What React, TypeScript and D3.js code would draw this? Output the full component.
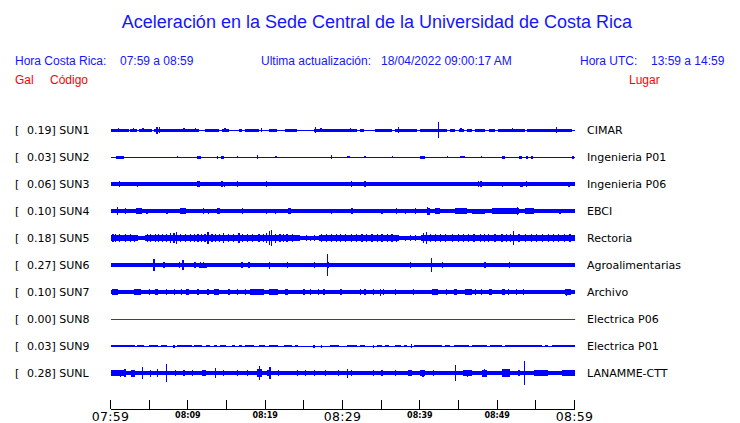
import React from "react";
import * as d3 from "d3";

// ---------- data ----------
const STATIONS = ["SUN1", "SUN2", "SUN3", "SUN4", "SUN5", "SUN6", "SUN7", "SUN8", "SUN9", "SUNL"];
const PEAKS = [0.19, 0.03, 0.06, 0.1, 0.18, 0.27, 0.1, 0.0, 0.03, 0.28];
const PLACES = ["CIMAR", "Ingenieria P01", "Ingenieria P06", "EBCI", "Rectoria", "Agroalimentarias", "Archivo", "Electrica P06", "Electrica P01", "LANAMME-CTT"];
const TICK_MINUTES = [0, 5, 10, 15, 20, 25, 30, 35, 40, 45, 50, 55, 60];
const TICK_LABELS = ["07:59", "08:09", "08:19", "08:29", "08:39", "08:49", "08:59"];
const MAJOR_LABELS = ["07:59", "08:29", "08:59"];

type Seg = [number, number, number];
type Spk = [number, number];

// quiet-level half amplitude per station
const BASES = [0.5, 0.5, 1.7, 1.9, 2.0, 2.0, 2.0, 0.5, 0.5, 2.0];

const SUN1_SEG: Seg[] = [[0, 2.37, 1.5], [2.58, 3.45, 1.5], [3.66, 5.38, 1.5], [5.6, 11.41, 1.5], [12.27, 14.0, 1.5], [14.43, 15.29, 1.5], [16.58, 17.01, 1.5], [17.44, 19.16, 1.5], [20.46, 21.53, 1.5], [22.61, 24.12, 1.5], [26.27, 31.87, 1.5], [32.3, 32.73, 1.5], [34.24, 36.39, 1.5], [36.82, 39.62, 1.5], [40.05, 43.5, 1.5], [43.93, 44.57, 1.5], [45.0, 45.65, 1.5], [46.08, 46.73, 1.5], [47.16, 48.45, 1.5], [48.88, 49.74, 1.5], [50.17, 53.62, 1.5], [53.83, 59.65, 1.5]];
const SUN1_SPK: Spk[] = [[1.0, 2.2], [3.0, 2.3], [4.2, 2], [6.0, 3.5], [6.3, 2.8], [9.5, 2], [11.0, 2.2], [14.8, 2], [19.5, 2], [26.5, 3], [27.2, 2.2], [31.0, 2.2], [37.2, 2.8], [42.4, 8.3], [45.3, 2], [52.0, 2], [57.7, 2.7]];

const SUN2_SEG: Seg[] = [[0.65, 1.7, 1.5], [11.2, 11.7, 1.5], [14.3, 14.7, 1.5], [40.0, 40.7, 1.5], [45.2, 45.8, 1.2], [50.6, 51.0, 1.5], [52.8, 53.2, 1.5], [53.7, 54.0, 1.5]];
const SUN2_SPK: Spk[] = [[8.6, 1.3], [13.8, 1.5], [16.4, 1.2], [19.0, 1.7], [21.4, 1.2], [28.6, 1.7], [30.7, 1.3], [30.9, 1.3], [32.9, 1.3], [36.5, 1.3], [43.6, 1.2], [48.0, 1.3], [54.5, 1.5], [59.8, 1.5]];

const SUN3_SEG: Seg[] = [[11.2, 11.6, 2.8], [40.5, 40.7, 2.3], [53.0, 53.3, 2.5], [59.2, 59.4, 2.5]];
const SUN3_SPK: Spk[] = [[1.16, 2.8], [3.5, 2.5], [14.4, 2.7], [14.7, 2.5], [16.4, 2.7], [20.2, 2.7], [29.0, 2.3], [31.2, 3.3], [32.9, 2.7], [47.6, 2.7], [47.9, 2.7], [50.7, 2.5], [53.8, 2.7], [56.4, 2.2], [57.5, 2.2], [58.4, 2.2]];

const SUN4_SEG: Seg[] = [[3.3, 4.1, 2.6], [9.0, 9.7, 2.8], [12.0, 12.15, 3.3], [13.8, 14.1, 3.2], [23.0, 23.3, 2.7], [31.1, 31.4, 2.6], [40.9, 41.3, 3.5], [42.0, 42.6, 2.6], [44.6, 46.1, 2.7], [46.7, 48.4, 2.5], [49.3, 52.8, 2.7], [53.6, 54.7, 2.6]];
const SUN4_SPK: Spk[] = [[0.86, 4.3], [1.94, 2.6], [4.7, 2.5], [7.3, 2.5], [12.7, 2.5], [17.1, 2.7], [18.3, 2.2], [20.2, 2.5], [21.3, 2.5], [25.0, 2.3], [26.1, 2.3], [27.4, 2.3], [28.6, 2.5], [35.1, 2.5], [37.0, 3], [38.1, 2.5], [39.4, 3.3], [41.0, 4], [45.5, 3.2], [50.8, 3.3], [52.6, 4], [56.0, 2.3], [57.1, 2.3], [58.1, 2.5]];

const SUN5_SEG: Seg[] = [[0, 3.5, 3.1], [4.5, 24.5, 3.1], [27, 37.3, 3.1], [40.2, 60, 3.1]];
const SUN5_SPK: Spk[] = [
  [0.3, 3.7], [0.65, 4], [1.2, 3.6], [1.9, 4], [2.6, 3.7], [3.1, 3.5], [4.8, 3.6], [5.2, 4], [5.8, 4.3], [6.2, 3.7], [6.7, 4], [7.2, 3.8],
  [7.75, 5.3], [8.2, 5], [8.5, 6.3], [9.0, 4.2], [9.7, 4], [10.3, 3.6], [10.8, 4], [11.3, 3.7], [11.8, 3.7], [12.2, 4], [12.6, 6], [13.1, 3.8],
  [13.6, 4.3], [14.1, 3.9], [14.6, 4.7], [15.2, 3.6], [15.9, 4], [16.6, 4.7], [17.1, 3.8], [17.7, 3.6], [18.3, 3.7], [19.2, 4], [19.8, 4.2],
  [20.2, 4.6], [20.5, 7], [20.8, 8], [21.3, 4.5], [21.9, 3.8], [22.4, 3.6], [22.8, 4], [23.5, 3.7], [24.3, 3.3], [25.3, 2.6], [25.8, 2.5],
  [26.4, 2.8], [27.3, 4], [27.9, 3.7], [28.6, 4], [29.2, 3.6], [29.7, 3.7], [30.4, 3.8], [31.2, 4], [31.8, 3.6], [32.5, 4.3], [33.1, 3.6],
  [33.8, 3.7], [34.5, 3.8], [35.1, 4], [35.8, 3.6], [36.4, 3.7], [37.0, 3.5], [38.1, 2.5], [38.8, 2.6], [39.4, 2.7], [40.5, 4.7], [40.8, 6],
  [41.4, 3.8], [42.0, 4], [42.7, 3.6], [43.3, 4], [44.2, 3.6], [45.0, 3.7], [45.6, 3.8], [46.3, 4], [47.0, 3.6], [47.8, 4.3], [48.3, 3.7],
  [48.9, 4], [49.7, 3.6], [50.6, 3.7], [51.2, 3.8], [51.7, 4], [52.1, 7.3], [52.8, 3.8], [53.6, 4], [54.4, 3.6], [55.1, 3.7], [55.9, 3.8],
  [56.6, 4], [57.3, 3.6], [57.9, 4.3], [58.7, 3.7], [59.4, 4]
];

const SUN6_SEG: Seg[] = [[10.8, 11.0, 3], [11.4, 12.5, 2.5], [48.3, 48.6, 3.3]];
const SUN6_SPK: Spk[] = [[5.6, 6.3], [6.9, 2.7], [8.9, 2.7], [9.35, 5], [11.6, 2.8], [12.0, 2.6], [17.0, 2.7], [17.9, 2.7], [20.5, 3.5], [22.9, 2.6], [26.4, 3], [28.0, 10.8], [28.2, 2.6], [30.1, 2.4], [32.0, 2.4], [34.8, 2.4], [36.5, 2.4], [38.8, 2.7], [41.5, 7.2], [42.9, 2.7], [45.1, 2.4], [50.5, 2.4], [51.6, 2.6], [56.7, 2.4], [59.4, 2.4]];

const SUN7_SEG: Seg[] = [[0.2, 1.0, 2.7], [3.0, 3.9, 2.7], [9.7, 10.1, 2.6], [11.2, 11.4, 2.6], [13.4, 14.0, 2.7], [18.1, 19.8, 2.6], [20.5, 21.7, 2.6], [22.5, 22.9, 3], [41.6, 42.4, 2.6], [44.4, 44.8, 3], [45.8, 46.7, 2.7], [48.9, 49.3, 2.6], [50.6, 51.0, 3], [58.8, 59.6, 2.8]];
const SUN7_SPK: Spk[] = [[5.0, 2.6], [5.8, 2.6], [6.0, 2.6], [7.2, 2.7], [8.3, 3.3], [9.2, 2.6], [12.6, 2.6], [15.3, 2.6], [16.4, 2.6], [17.4, 2.6], [25.0, 2.6], [25.9, 2.6], [26.9, 2.6], [27.6, 2.6], [29.8, 2.6], [32.3, 2.6], [32.9, 2.6], [34.0, 2.6], [34.9, 3.5], [35.3, 2.6], [36.8, 2.8], [39.2, 2.6], [43.4, 2.6], [47.2, 2.6], [48.0, 2.6], [51.5, 2.6], [52.5, 2.6], [53.4, 2.6], [55.3, 2.4], [56.6, 2.4], [59.0, 3.5]];

const SUN8_SEG: Seg[] = [];
const SUN8_SPK: Spk[] = [];

const SUN9_SEG: Seg[] = [[0, 3.2, 1.4], [3.45, 4.3, 1.4], [5.0, 6.2, 1.4], [6.5, 7.3, 1.4], [8.6, 10.6, 1.4], [10.8, 11.8, 1.4], [12.3, 12.9, 1.4], [13.4, 13.8, 1.4], [14.2, 14.9, 1.4], [15.7, 16.1, 1.4], [16.6, 17.0, 1.4], [17.4, 18.5, 1.4], [19.2, 20.0, 1.4], [20.5, 21.7, 1.4], [22.4, 23.5, 1.4], [23.9, 24.3, 1.4], [28.4, 29.5, 1.4], [30.6, 31.9, 1.4], [32.3, 32.9, 1.4], [34.5, 35.1, 1.4], [35.5, 36.0, 1.4], [36.8, 37.5, 1.4], [37.9, 38.3, 1.4], [39.2, 42.9, 1.4], [43.3, 43.9, 1.4], [44.4, 46.3, 1.4], [46.7, 48.7, 1.4], [49.1, 50.6, 1.4], [51.0, 55.8, 1.4], [56.2, 56.6, 1.4], [57.1, 60, 1.4]];
const SUN9_SPK: Spk[] = [[8.2, 1.5], [26.3, 1.5], [27.3, 1.5], [34.0, 1.5], [38.9, 1.7]];

const SUNL_SEG: Seg[] = [[0, 1.9, 2.7], [2.6, 3.2, 3.5], [6.0, 6.2, 3.8], [11.8, 12.3, 3.3], [18.9, 19.6, 3.8], [20.3, 20.8, 3.3], [38.5, 39.0, 2.7], [40.0, 40.7, 3.2], [45.6, 46.7, 3.2], [48.0, 48.7, 3.5], [50.6, 51.7, 3.8], [54.7, 56.6, 2.7], [58.4, 60, 2.9]];
const SUNL_SPK: Spk[] = [[1.3, 3.5], [1.85, 3.7], [4.1, 5.8], [5.2, 3.5], [7.2, 9.3], [8.4, 2.8], [9.5, 2.7], [10.6, 2.7], [13.6, 5.3], [14.6, 2.8], [16.4, 2.7], [17.7, 3.3], [19.3, 7.3], [20.6, 6.3], [21.7, 2.8], [24.2, 3.3], [25.2, 2.7], [26.4, 3.3], [27.8, 2.7], [29.5, 2.7], [30.6, 4.5], [31.2, 2.7], [34.0, 3], [35.1, 2.6], [36.8, 2.6], [40.4, 3.5], [41.8, 2.7], [44.6, 7.8], [46.2, 3.5], [48.3, 3.8], [51.2, 4.3], [52.8, 3], [53.5, 12.3], [55.0, 2.8], [59.8, 3]];

const SEGMENTS = [SUN1_SEG, SUN2_SEG, SUN3_SEG, SUN4_SEG, SUN5_SEG, SUN6_SEG, SUN7_SEG, SUN8_SEG, SUN9_SEG, SUNL_SEG];
const SPIKES = [SUN1_SPK, SUN2_SPK, SUN3_SPK, SUN4_SPK, SUN5_SPK, SUN6_SPK, SUN7_SPK, SUN8_SPK, SUN9_SPK, SUNL_SPK];

// ---------- chart ----------
const W = 740;
const H = 423;
const BLUE = "#0000ff";
const TEXT_BLUE = "#1515ff";
const RED = "#ff0000";
const HEAD_FONT = "'Liberation Sans', Arial, sans-serif";
const BODY_FONT = "'DejaVu Sans', Verdana, sans-serif";

export default function App() {
  const x = d3.scaleLinear().domain([0, 60]).range([110.5, 574.5]);
  const y = d3.scaleLinear().domain([0, STATIONS.length - 1]).range([130, 373]);
  const amp = d3.scaleLinear().domain([0, 13.5]).range([0, 13.5]);
  const axisY = 409;

  return (
    <svg width={W} height={H} style={{ position: "absolute", left: 0, top: 0, background: "#fff" }}>
      <rect width={W} height={H} fill="#fff" />
      <text x={377} y={28} textAnchor="middle" fill={TEXT_BLUE} fontFamily={HEAD_FONT} fontSize={18}>
        Aceleración en la Sede Central de la Universidad de Costa Rica
      </text>
      <g fontFamily={HEAD_FONT} fontSize={12} fill={TEXT_BLUE}>
        <text x={15} y={65}>Hora Costa Rica:</text>
        <text x={120} y={65}>07:59 a 08:59</text>
        <text x={261} y={65}>Ultima actualización:</text>
        <text x={381} y={65}>18/04/2022 09:00:17 AM</text>
        <text x={580} y={65}>Hora UTC:</text>
        <text x={651} y={65}>13:59 a 14:59</text>
      </g>
      <g fontFamily={HEAD_FONT} fontSize={12} fill={RED}>
        <text x={15} y={84}>Gal</text>
        <text x={50} y={84}>Código</text>
        <text x={629} y={84}>Lugar</text>
      </g>

      {STATIONS.map((s, i) => {
        const cy = y(i);
        const color = s === "SUN8" ? "#e00000" : BLUE;
        const base = amp(BASES[i]);
        return (
          <g key={s}>
            <text x={15} y={cy + 4} fontFamily={BODY_FONT} fontSize={11} fill="#000">[</text>
            <text x={27} y={cy + 4} fontFamily={BODY_FONT} fontSize={11} fill="#000">
              {PEAKS[i].toFixed(2)}] {s}
            </text>
            <text x={587} y={cy + 4} fontFamily={BODY_FONT} fontSize={11} fill="#000">
              {PLACES[i]}
            </text>
            <g fill={color} shapeRendering="crispEdges">
              <rect x={x(0)} y={cy - base} width={x(60) - x(0)} height={Math.max(1, base * 2)} />
              {SEGMENTS[i].map((sg, k) => (
                <rect key={"s" + k} x={x(sg[0])} y={cy - amp(sg[2])} width={Math.max(1, x(sg[1]) - x(sg[0]))} height={amp(sg[2]) * 2} />
              ))}
              {SPIKES[i].map((sp, k) => (
                <rect key={"p" + k} x={x(sp[0]) - 0.5} y={cy - amp(sp[1])} width={1.2} height={amp(sp[1]) * 2} />
              ))}
            </g>
          </g>
        );
      })}

      <g stroke="#000" strokeWidth={1} shapeRendering="crispEdges">
        <line x1={x(0)} x2={x(60)} y1={axisY} y2={axisY} />
        {TICK_MINUTES.map((m) => (
          <line key={m} x1={x(m)} x2={x(m)} y1={axisY - 9} y2={axisY} />
        ))}
      </g>
      {TICK_LABELS.map((lab, k) => {
        const m = k * 10;
        const major = MAJOR_LABELS.includes(lab);
        return (
          <text
            key={lab}
            x={x(m)}
            y={major ? 421 : 418}
            textAnchor="middle"
            fontFamily={BODY_FONT}
            fontSize={major ? 12.5 : 8}
            fontWeight={major ? "normal" : "bold"}
            fill="#000"
            letterSpacing={major ? 0.3 : 0}
          >
            {lab}
          </text>
        );
      })}
    </svg>
  );
}
